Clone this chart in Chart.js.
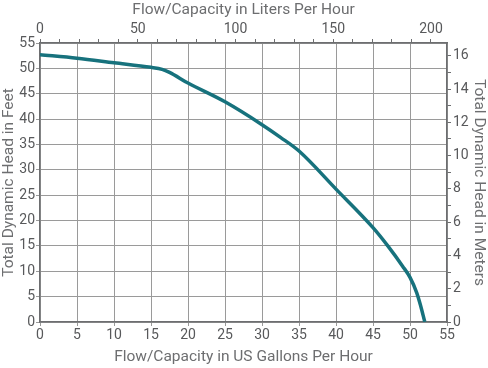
<!DOCTYPE html>
<html>
<head>
<meta charset="utf-8">
<script src="https://cdn.jsdelivr.net/npm/chart.js@4.4.0/dist/chart.umd.min.js"></script>
<style>
  html, body { margin: 0; padding: 0; background: #fff; }
  #wrap { width: 488px; height: 368px; }
</style>
</head>
<body>
<div id="wrap"><canvas id="c"></canvas></div>
<script>
// pump curve
const flowGph = [0, 5, 10, 15, 16.5, 17.5, 20, 25, 30, 32.5, 35, 40, 45, 47, 49, 50, 50.9, 51.4, 52];
const headFt = [52.7, 52.0, 51.1, 50.2, 49.8, 49.2, 47.1, 43.4, 38.9, 36.4, 33.7, 26.2, 18.6, 15.0, 11.0, 8.8, 5.8, 3.4, 0];

const GAL_TO_L = 3.785411784;
const FT_TO_M = 0.3048;
const xMax = 55, yMax = 55;

const grey = "#9a9a9a";
const axisCol = "#6d6e70";
const textCol = "#58595b";
const tickFont = { family: "Roboto", size: 14 };
const titleFont = { family: "Roboto", size: 15.5 };

const pts = flowGph.map((x, i) => ({ x: x, y: headFt[i] }));

const fixSize = (w, h) => (scale) => {
  if (w != null) scale.width = w;
  if (h != null) scale.height = h;
};

new Chart(document.getElementById("c"), {
  type: "line",
  data: {
    datasets: [{
      data: pts,
      borderColor: "#17727d",
      borderWidth: 3.5,
      pointRadius: 0,
      cubicInterpolationMode: "monotone",
      xAxisID: "x",
      yAxisID: "y"
    }]
  },
  options: {
    responsive: true,
    maintainAspectRatio: false,
    animation: false,
    layout: { padding: 0 },
    plugins: { legend: { display: false }, tooltip: { enabled: false } },
    scales: {
      x: {
        type: "linear", position: "bottom", min: 0, max: xMax,
        afterFit: fixSize(null, 46),
        ticks: { stepSize: 5, color: textCol, font: tickFont, padding: 1, maxRotation: 0 },
        grid: { color: grey, lineWidth: 1, tickLength: 4 },
        border: { color: axisCol, width: 1.5 },
        title: { display: true, text: "Flow/Capacity in US Gallons Per Hour", color: axisCol, font: titleFont, padding: { top: 0, bottom: 2 } }
      },
      x2: {
        type: "linear", position: "top", min: 0, max: xMax * GAL_TO_L,
        afterFit: fixSize(null, 43),
        ticks: {
          stepSize: 10, includeBounds: false, autoSkip: false, maxRotation: 0,
          color: textCol, font: tickFont, padding: 1,
          callback: (v) => (v % 50 === 0 ? v : "")
        },
        grid: { drawOnChartArea: false, color: axisCol, tickLength: 4 },
        border: { color: axisCol, width: 1.5 },
        title: { display: true, text: "Flow/Capacity in Liters Per Hour", color: axisCol, font: titleFont, padding: { top: 1, bottom: 0 } }
      },
      y: {
        type: "linear", position: "left", min: 0, max: yMax,
        afterFit: fixSize(40, null),
        ticks: { stepSize: 5, color: textCol, font: tickFont, padding: 1 },
        grid: { color: grey, lineWidth: 1, tickLength: 4 },
        border: { color: axisCol, width: 1.5 },
        title: { display: true, text: "Total Dynamic Head in Feet", color: axisCol, font: titleFont, padding: 0 }
      },
      y2: {
        type: "linear", position: "right", min: 0, max: yMax * FT_TO_M,
        afterFit: fixSize(41, null),
        ticks: {
          stepSize: 1, includeBounds: false, autoSkip: false,
          color: textCol, font: tickFont, padding: 2,
          callback: (v) => (v % 2 === 0 ? v : "")
        },
        grid: { drawOnChartArea: false, color: axisCol, tickLength: 4 },
        border: { color: axisCol, width: 1.5 },
        title: { display: true, text: "Total Dynamic Head in Meters", color: axisCol, font: titleFont, padding: 0 }
      }
    }
  }
});
</script>
</body>
</html>
